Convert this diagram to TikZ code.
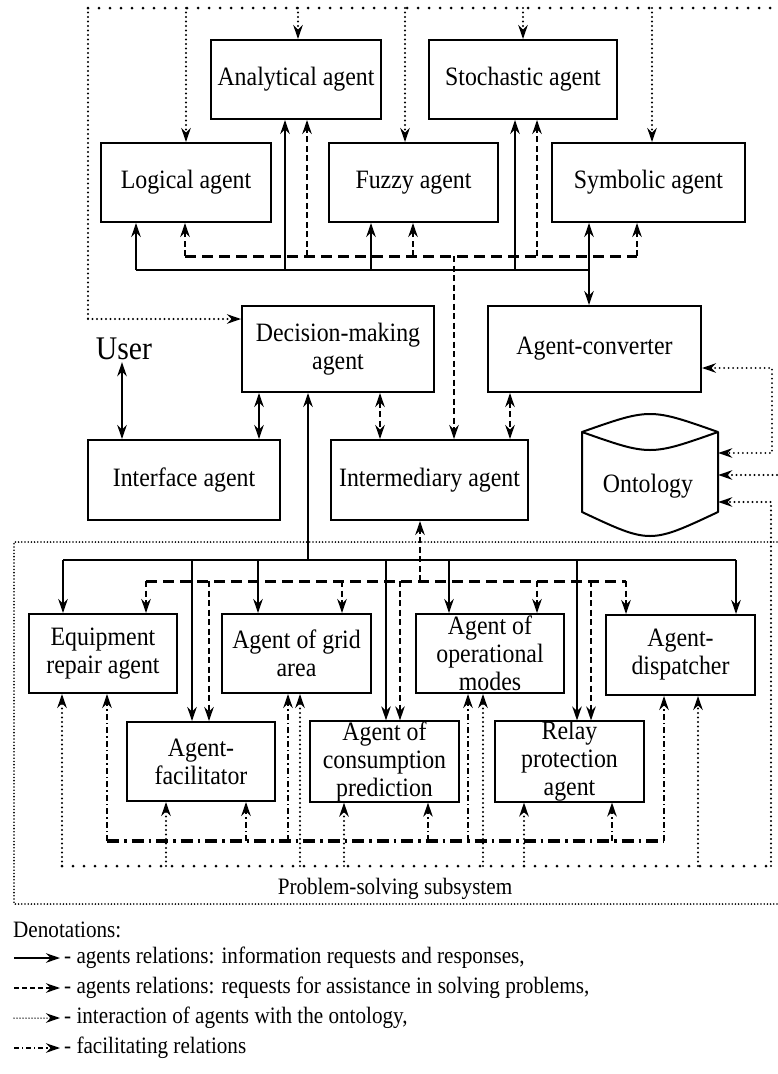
\documentclass[tikz,border=0pt]{standalone}
\usepackage{fontspec}
\setmainfont{Liberation Serif}[FakeStretch=0.9]
\usetikzlibrary{arrows.meta}
\begin{document}
\begin{tikzpicture}[x=1pt,y=-1pt,
  box/.style={draw,line width=2pt,inner sep=0pt,align=center,font=\fontsize{26.5}{28}\selectfont},
  ar/.style={-{Stealth[length=14pt,width=9.5pt,inset=4.5pt]}},
  arr/.style={{Stealth[length=14pt,width=9.5pt,inset=4.5pt]}-{Stealth[length=14pt,width=9.5pt,inset=4.5pt]}},
  sol/.style={line width=2pt},
  dsh/.style={line width=2pt,dash pattern=on 6pt off 3.5pt},
  dshB/.style={line width=3pt,dash pattern=on 11pt off 6pt},
  dd/.style={line width=1.8pt,dash pattern=on 6pt off 3pt on 1.5pt off 3pt},
  ddB/.style={line width=3.2pt,dash pattern=on 12pt off 5pt on 2.5pt off 5pt},
  dotS/.style={line width=2.1pt,line cap=round,dash pattern=on 0pt off 4.5pt},
  dotB/.style={line width=3pt,line cap=round,dash pattern=on 0pt off 11pt},
  psb/.style={line width=1.8pt,line cap=round,dash pattern=on 0pt off 3.2pt},
  lg/.style={inner sep=0pt,font=\fontsize{23.5}{26}\selectfont}
]
\useasboundingbox (0,0) rectangle (777,1074);

% ---------- upper agents ----------
\node[box,minimum width=170pt,minimum height=79pt] (ana) at (296,79.5) {Analytical agent};
\node[box,minimum width=188pt,minimum height=79pt] (sto) at (523,79.5) {Stochastic agent};
\node[box,minimum width=170pt,minimum height=79pt] (log) at (186,182.5) {Logical agent};
\node[box,minimum width=169pt,minimum height=79pt] (fuz) at (413.5,182.5) {Fuzzy agent};
\node[box,minimum width=193pt,minimum height=79pt] (sym) at (648.5,182.5) {Symbolic agent};

\node[box,minimum width=192pt,minimum height=86pt] (dm) at (338,349) {Decision-making\\agent};
\node[box,minimum width=213pt,minimum height=86pt] (conv) at (594.5,349) {Agent-converter};
\node[inner sep=2pt,font=\fontsize{33}{33}\selectfont] (user) at (124,349) {User};
\node[box,minimum width=192pt,minimum height=80pt] (intf) at (184,480) {Interface agent};
\node[box,minimum width=197pt,minimum height=80pt] (inter) at (429.5,480) {Intermediary agent};

% ontology cylinder
\node[minimum width=136pt,minimum height=108pt,inner sep=0pt] (ont) at (650,474) {};
\draw[line width=2pt,line join=round] (582,432) .. controls (650,408) .. (718,432)
   .. controls (650,456) .. (582,432) -- (582,512) .. controls (650,544) .. (718,512) -- (718,432);
\node[font=\fontsize{26.5}{28}\selectfont,inner sep=0pt] (ontl) at (648,486) {Ontology};

% ---------- lower agents ----------
\node[box,minimum width=148pt,minimum height=79pt] (eq) at (103,653.5) {Equipment\\repair agent};
\node[box,minimum width=149pt,minimum height=79pt] (grid) at (296.5,653.5) {Agent of grid\\area};
\node[box,minimum width=148pt,minimum height=79pt] (ops) at (490,653.5) {Agent of\\operational\\modes};
\node[box,minimum width=149pt,minimum height=80pt] (disp) at (680.5,655) {Agent-\\dispatcher};
\node[box,minimum width=148pt,minimum height=79pt] (fac) at (201,761.5) {Agent-\\facilitator};
\node[box,minimum width=149pt,minimum height=79pt] (cons) at (384.5,761.5) {Agent of\\consumption\\prediction};
\node[box,minimum width=149pt,minimum height=79pt] (relay) at (569.5,761.5) {Relay\\protection\\agent};

% ---------- top dotted (ontology) ----------
\draw[dotB] (88,8) -- (777,8);
\draw[dotS] (88,8) -- (88,319);
\draw[dotS,ar] (88,319) -- (dm.west |- 0,319);
\foreach \x/\n in {186/log,298/ana,405/fuz,523/sto,652/sym}
  \draw[dotS,ar] (\x,8) -- (\x,0 |- \n.north);
\draw[dotS,ar] (777,475) -- (ont.east |- 0,475);
\draw[dotS,arr] (conv.east |- 0,368) -- (772,368) -- (772,453) -- (ont.east |- 0,453);

% ---------- top solid bus ----------
\draw[sol] (136,270) -- (589,270);
\foreach \x/\n in {136/log,285/ana,371/fuz,515/sto}
  \draw[sol,ar] (\x,270) -- (\x,0 |- \n.south);
\draw[sol,arr] (589,0 |- sym.south) -- (589,0 |- conv.north);

% ---------- top dashed bus ----------
\draw[dshB] (185,256) -- (637,256);
\foreach \x/\n in {185/log,307/ana,413/fuz,537/sto,637/sym}
  \draw[dsh,ar] (\x,256) -- (\x,0 |- \n.south);
\draw[dsh,ar] (454,256) -- (454,0 |- inter.north);

% ---------- middle ----------
\draw[sol,arr] (122,0 |- user.south) -- (122,0 |- intf.north);
\draw[sol,arr] (259,0 |- dm.south) -- (259,0 |- intf.north);
\draw[dsh,arr] (380,0 |- dm.south) -- (380,0 |- inter.north);
\draw[dsh,arr] (510,0 |- conv.south) -- (510,0 |- inter.north);

% ---------- problem-solving subsystem ----------
\draw[psb] (777,542) -- (14,542) -- (14,904) -- (777,904);
\node[lg] (pss) at (395,889) {Problem-solving subsystem};

% solid bus
\draw[sol,ar] (308,560) -- (308,0 |- dm.south);
\draw[sol] (63,560) -- (736,560);
\foreach \x/\n in {63/eq,192/fac,258/grid,386/cons,449/ops,577/relay,736/disp}
  \draw[sol,ar] (\x,560) -- (\x,0 |- \n.north);

% dashed bus
\draw[dshB] (146,581) -- (626,581);
\foreach \x/\n in {146/eq,209/fac,342/grid,400/cons,537/ops,591/relay,626/disp}
  \draw[dsh,ar] (\x,581) -- (\x,0 |- \n.north);
\draw[dsh,ar] (420,581) -- (420,0 |- inter.south);

% dash-dot bus
\draw[ddB] (107,841) -- (664,841);
\foreach \x/\n in {107/eq,246/fac,288/grid,428/cons,468/ops,612/relay,664/disp}
  \draw[dd,ar] (\x,841) -- (\x,0 |- \n.south);

% dotted bus
\draw[dotB] (62,866) -- (771,866);
\foreach \x/\n in {62/eq,166/fac,300/grid,344/cons,483/ops,524/relay,698/disp}
  \draw[dotS,ar] (\x,866) -- (\x,0 |- \n.south);
\draw[dotS,ar] (771,866) -- (771,502) -- (ont.east |- 0,502);

% ---------- legend ----------
\node[lg,anchor=west] (den) at (13,930) {Denotations:};
\coordinate (l1a) at (14,958); \coordinate (l1b) at (60,958);
\coordinate (l2a) at (14,988); \coordinate (l2b) at (60,988);
\coordinate (l3a) at (14,1018); \coordinate (l3b) at (60,1018);
\coordinate (l4a) at (14,1048); \coordinate (l4b) at (60,1048);
\draw[sol,ar] (l1a) -- (l1b);
\draw[line width=1.8pt,dash pattern=on 5pt off 3pt,ar] (l2a) -- (l2b);
\draw[line width=1.5pt,line cap=round,dash pattern=on 0pt off 3pt,ar] (l3a) -- (l3b);
\draw[line width=1.6pt,dash pattern=on 5pt off 3pt on 1.2pt off 3pt,ar] (l4a) -- (l4b);
\node[lg,anchor=west] (t1) at (64,958) {- agents relations: information requests and responses,};
\node[lg,anchor=west] (t2) at (64,988) {- agents relations: requests for assistance in solving problems,};
\node[lg,anchor=west] (t3) at (64,1018) {- interaction of agents with the ontology,};
\node[lg,anchor=west] (t4) at (64,1048) {- facilitating relations};
\end{tikzpicture}
\end{document}
